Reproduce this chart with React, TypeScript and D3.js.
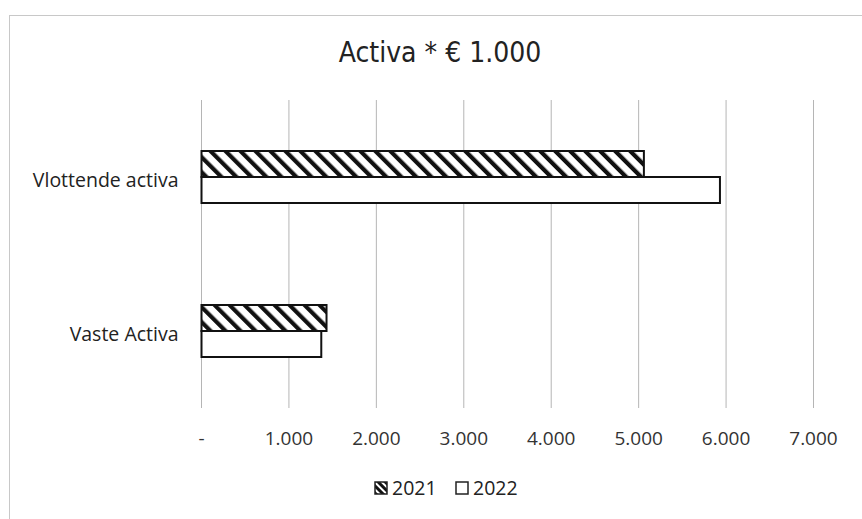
import { useEffect, useRef } from "react"
import * as d3 from "d3"

const categorieen = ["Vlottende activa", "Vaste Activa"]
const jaren = ["2021", "2022"]
const waarden2021 = [5060, 1430]
const waarden2022 = [5930, 1370]
const ticks = [0, 1000, 2000, 3000, 4000, 5000, 6000, 7000]

const labelFont = "'Open Sans', 'Liberation Sans', sans-serif"

export default function App() {
  const svgRef = useRef<SVGSVGElement>(null)

  useEffect(() => {
    if (!svgRef.current) return
    const svg = d3.select(svgRef.current)
    svg.selectAll("*").remove()

    const width = 862
    const height = 519
    const margin = { top: 100, left: 201.5, right: 48.5, bottom: 111 }
    const innerWidth = width - margin.left - margin.right
    const innerHeight = height - margin.top - margin.bottom

    // hatch patroon
    const defs = svg.append("defs")
    const pat = defs
      .append("pattern")
      .attr("id", "hatch")
      .attr("patternUnits", "userSpaceOnUse")
      .attr("width", 10.6)
      .attr("height", 10.6)
      .attr("patternTransform", "rotate(-45)")
    pat.append("rect").attr("width", 10.6).attr("height", 10.6).attr("fill", "#fff")
    pat.append("rect").attr("x", 0).attr("y", 0).attr("width", 4.2).attr("height", 10.6).attr("fill", "#111")

    const patSmall = defs
      .append("pattern")
      .attr("id", "hatchSmall")
      .attr("patternUnits", "userSpaceOnUse")
      .attr("width", 5)
      .attr("height", 5)
      .attr("patternTransform", "rotate(-45)")
    patSmall.append("rect").attr("width", 5).attr("height", 5).attr("fill", "#fff")
    patSmall.append("rect").attr("width", 3).attr("height", 5).attr("fill", "#111")

    // kader
    svg
      .append("rect")
      .attr("x", 9.5)
      .attr("y", 15.5)
      .attr("width", 900)
      .attr("height", 600)
      .attr("fill", "#fff")
      .attr("stroke", "#c8c8c8")
      .attr("stroke-width", 1)

    // titel
    svg
      .append("text")
      .attr("x", 440)
      .attr("y", 62)
      .attr("text-anchor", "middle")
      .style("font-family", "'Liberation Sans Narrow', 'DejaVu Sans Condensed', sans-serif")
      .style("font-size", "28px")
      .attr("fill", "#222")
      .text("Activa * € 1.000")

    const g = svg.append("g").attr("transform", `translate(${margin.left},${margin.top})`)

    const x = d3.scaleLinear().domain([0, 7000]).range([0, innerWidth])
    const y = d3.scaleBand().domain(categorieen).range([0, innerHeight])
    const barH = 26

    // rasterlijnen
    g.selectAll(".grid")
      .data(ticks)
      .enter()
      .append("line")
      .attr("x1", (d) => x(d))
      .attr("x2", (d) => x(d))
      .attr("y1", 0)
      .attr("y2", innerHeight)
      .attr("stroke", "#b5b5b5")
      .attr("stroke-width", 1)

    // tick labels
    g.selectAll(".tick")
      .data(ticks)
      .enter()
      .append("text")
      .attr("x", (d) => x(d))
      .attr("y", innerHeight + 37)
      .attr("text-anchor", "middle")
      .style("font-family", labelFont)
      .style("font-size", "19px")
      .attr("fill", "#333")
      .text((d) => (d === 0 ? "-" : d3.format(",")(d).replace(",", ".")))

    // categorie labels
    g.selectAll(".cat")
      .data(categorieen)
      .enter()
      .append("text")
      .attr("x", -23)
      .attr("y", (d) => y(d)! + y.bandwidth() / 2 + 10)
      .attr("text-anchor", "end")
      .style("font-family", labelFont)
      .style("font-size", "19.5px")
      .attr("fill", "#222")
      .text((d) => d)

    // balken
    const reeksen = [waarden2021, waarden2022]
    reeksen.forEach((reeks, si) => {
      g.selectAll(`.bar${si}`)
        .data(reeks)
        .enter()
        .append("rect")
        .attr("x", 0)
        .attr("y", (d, i) => y(categorieen[i])! + y.bandwidth() / 2 - barH + si * barH)
        .attr("width", (d) => x(d))
        .attr("height", barH)
        .attr("fill", si === 0 ? "url(#hatch)" : "#fff")
        .attr("stroke", "#111")
        .attr("stroke-width", 2)
    })

    // legenda
    const legend = svg.append("g").attr("transform", `translate(375, 488)`)
    jaren.forEach((jaar, i) => {
      const item = legend.append("g").attr("transform", `translate(${i * 81}, 0)`)
      item
        .append("rect")
        .attr("x", 0)
        .attr("y", -6)
        .attr("width", 12)
        .attr("height", 12)
        .attr("fill", i === 0 ? "url(#hatchSmall)" : "#fff")
        .attr("stroke", "#222")
        .attr("stroke-width", 1.5)
      item
        .append("text")
        .attr("x", 17)
        .attr("y", 7)
        .style("font-family", labelFont)
        .style("font-size", "19.5px")
        .attr("fill", "#222")
        .text(jaar)
    })
  }, [])

  return (
    <svg
      ref={svgRef}
      width={862}
      height={519}
      style={{ position: "absolute", left: 0, top: 0, background: "#fff" }}
    />
  )
}
